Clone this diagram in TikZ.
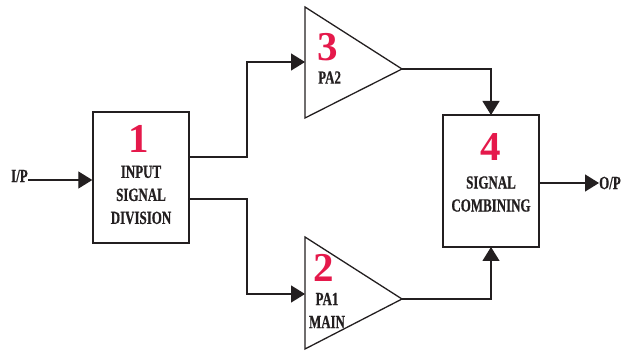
\documentclass[tikz,border=0pt]{standalone}
\usepackage{fontspec}
\setmainfont{Liberation Serif}
\newfontfamily\lblfont[FakeStretch=0.7,FakeBold=0.6]{Liberation Serif}
\newfontfamily\numfont{Liberation Serif}
\usetikzlibrary{arrows.meta}
\definecolor{numred}{HTML}{E5194B}
\definecolor{ink}{HTML}{231F20}
\tikzset{
  wire/.style={draw=ink, line width=1.3pt},
  arr/.style={wire, -{Triangle[length=14pt,width=17pt]}},
  blockbox/.style={draw=ink, line width=1.4pt, fill=white, minimum width=96pt, minimum height=131pt, inner sep=0pt},
  numtxt/.style={text=numred, font=\numfont\bfseries\fontsize{41}{41}\selectfont, inner sep=0pt, text height=28pt, text depth=0pt},
  lbltxt/.style={text=ink, font=\lblfont\bfseries\fontsize{18.5}{23}\selectfont, align=center, inner sep=0pt},
  tri/.style={draw=ink, line width=1.3pt, fill=white}
}
\begin{document}
\begin{tikzpicture}[x=1pt,y=-1pt]
\useasboundingbox (0,0) rectangle (626,352);
% blocks
\node[blockbox] (b1) at (141,177.5) {};
\node[blockbox, minimum height=132pt] (b4) at (491,181) {};
% triangles
\coordinate (t3a) at (305,7); \coordinate (t3b) at (305,118); \coordinate (t3out) at (402,69);
\coordinate (t3in) at (305,62);
\draw[tri] (t3a) -- (t3out) -- (t3b) -- cycle;
\coordinate (t2a) at (305,237); \coordinate (t2b) at (305,349); \coordinate (t2out) at (402,299);
\coordinate (t2in) at (305,294);
\draw[tri] (t2a) -- (t2out) -- (t2b) -- cycle;
% texts
\node[numtxt] (n1) at (139,139) {1};
\node[lbltxt] (l1) at (141,195) {INPUT\\SIGNAL\\DIVISION};
\node[numtxt] (n4) at (491,146.5) {4};
\node[lbltxt] (l4) at (491,194) {SIGNAL\\COMBINING};
\node[numtxt] (n3) at (328,47) {3};
\node[lbltxt, anchor=west] (l3) at (318,77.5) {PA2};
\node[numtxt] (n2) at (324,268) {2};
\node[lbltxt] (l2) at (327,310.5) {PA1\\MAIN};
\node[lbltxt, anchor=west] (ip) at (11,176) {I/P};
\node[lbltxt, anchor=west] (op) at (599,183) {O/P};
% connectors
\coordinate (b1up) at (189,157); \coordinate (b1dn) at (189,199);
\coordinate (b4top) at (491,115); \coordinate (b4bot) at (491,247);
\coordinate (b4r) at (539,183);
\draw[arr] (ip.east |- 0,180) -- (b1.west |- 0,180);
\draw[arr] (b1up) -- (247,157) -- (247,62) -- (t3in);
\draw[arr] (b1dn) -- (247,199) -- (247,294) -- (t2in);
\draw[arr] (t3out) -- (491,69) -- (b4top);
\draw[arr] (t2out) -- (491,299) -- (b4bot);
\draw[arr] (b4r) -- (op.west |- 0,183);
\end{tikzpicture}
\end{document}
